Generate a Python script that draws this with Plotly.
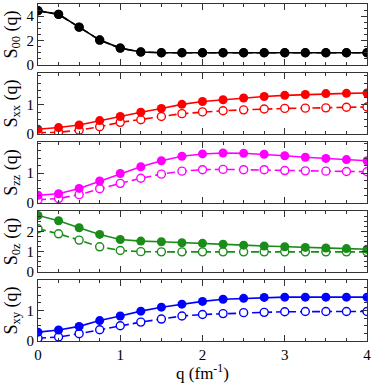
import plotly.graph_objects as go
from plotly.subplots import make_subplots

q = [0, 0.25, 0.5, 0.75, 1, 1.25, 1.5, 1.75, 2, 2.25, 2.5, 2.75, 3, 3.25, 3.5, 3.75, 4]

# filled circles (solid line) / open circles (dashed line)
s00_full = [4.45, 4.15, 3.1, 2.04, 1.38, 1.06, 1.0, 1.0, 1.0, 1.0, 1.0, 1.0, 1.0, 1.0, 1.0, 1.0, 1.0]
s00_open = [4.45, 4.15, 3.1, 2.04, 1.38, 1.06, 1.0, 1.0, 1.0, 1.0, 1.0, 1.0, 1.0, 1.0, 1.0, 1.0, 1.0]

sxx_full = [0.16, 0.22, 0.31, 0.46, 0.6, 0.75, 0.88, 1.02, 1.12, 1.18, 1.24, 1.29, 1.33, 1.36, 1.39, 1.4, 1.41]
sxx_open = [0.04, 0.06, 0.13, 0.25, 0.4, 0.49, 0.6, 0.7, 0.76, 0.8, 0.83, 0.86, 0.88, 0.89, 0.9, 0.92, 0.93]

szz_full = [0.26, 0.31, 0.49, 0.74, 0.99, 1.22, 1.42, 1.57, 1.65, 1.68, 1.67, 1.64, 1.59, 1.54, 1.5, 1.46, 1.42]
szz_open = [0.11, 0.15, 0.28, 0.48, 0.66, 0.83, 0.97, 1.07, 1.12, 1.13, 1.12, 1.12, 1.09, 1.08, 1.07, 1.06, 1.05]

s0z_full = [2.78, 2.52, 2.18, 1.85, 1.6, 1.52, 1.49, 1.44, 1.41, 1.37, 1.32, 1.28, 1.24, 1.21, 1.18, 1.15, 1.12]
s0z_open = [2.13, 1.88, 1.57, 1.24, 1.06, 1.0, 0.99, 0.99, 0.99, 0.99, 0.99, 0.99, 0.99, 0.99, 0.99, 0.99, 0.99]

sxy_full = [0.29, 0.36, 0.48, 0.67, 0.82, 0.98, 1.11, 1.21, 1.3, 1.37, 1.4, 1.43, 1.44, 1.44, 1.44, 1.44, 1.44]
sxy_open = [0.09, 0.13, 0.24, 0.37, 0.5, 0.62, 0.72, 0.82, 0.87, 0.9, 0.93, 0.94, 0.96, 0.97, 0.97, 0.97, 0.97]

x_ticks = [0, 1, 2, 3, 4]

panels = [
    ("S<sub>00</sub> (q)", s00_full, s00_open, "#000000", [0, 5], [0, 2, 4], 0.5),
    ("S<sub>xx</sub> (q)", sxx_full, sxx_open, "#ff0000", [0, 2.1], [0, 1], 0.25),
    ("S<sub>zz</sub> (q)", szz_full, szz_open, "#ff00ff", [0, 2.05], [0, 1], 0.25),
    ("S<sub>0z</sub> (q)", s0z_full, s0z_open, "#1a8c1a", [0, 3], [0, 1, 2], 0.25),
    ("S<sub>xy</sub> (q)", sxy_full, sxy_open, "#0000ff", [0, 2], [0, 1], 0.25),
]

fig = make_subplots(rows=5, cols=1, shared_xaxes=True, vertical_spacing=0.024)

font = "Liberation Serif, Times New Roman, serif"

for i, (title, full, opn, col, rng, yt, mdt) in enumerate(panels, start=1):
    fig.add_trace(go.Scatter(x=q, y=opn, mode="lines+markers",
                             line=dict(color=col, width=1.6, dash="8px,4px"),
                             marker=dict(symbol="circle", size=8, color="white", line=dict(width=1.4, color=col)),
                             showlegend=False), row=i, col=1)
    fig.add_trace(go.Scatter(x=q, y=full, mode="lines+markers",
                             line=dict(color=col, width=1.6),
                             marker=dict(symbol="circle", size=9, color=col),
                             showlegend=False), row=i, col=1)
    fig.update_yaxes(row=i, col=1, range=rng, tickvals=yt,
                     ticks="inside", ticklen=6, tickcolor="#333", mirror="allticks",
                     showline=True, linecolor="#333", linewidth=1.2,
                     showgrid=False, zeroline=False,
                     minor=dict(ticks="inside", ticklen=3, dtick=mdt, tick0=0, tickcolor="#333"),
                     tickfont=dict(family=font, size=15, color="black"),
                     title=dict(text=title, font=dict(family=font, size=18, color="black"), standoff=4))
    fig.update_xaxes(row=i, col=1, range=[0, 4], tickvals=x_ticks,
                     ticks="inside", ticklen=6, tickcolor="#333", mirror="allticks",
                     showline=True, linecolor="#333", linewidth=1.2,
                     showgrid=False, zeroline=False,
                     minor=dict(ticks="inside", ticklen=3, dtick=0.25, tick0=0, tickcolor="#333"),
                     tickfont=dict(family=font, size=15, color="black"))

fig.update_xaxes(row=5, col=1, title=dict(text="q (fm<sup>-1</sup>)", font=dict(family=font, size=17, color="black"), standoff=5))

fig.update_layout(width=374, height=383, margin=dict(l=38, r=5, t=3, b=40),
                  plot_bgcolor="white", paper_bgcolor="white")

fig.write_html("out.html", config={"displayModeBar": False},
               post_script="document.body.style.margin='0';document.body.style.overflow='hidden';")
